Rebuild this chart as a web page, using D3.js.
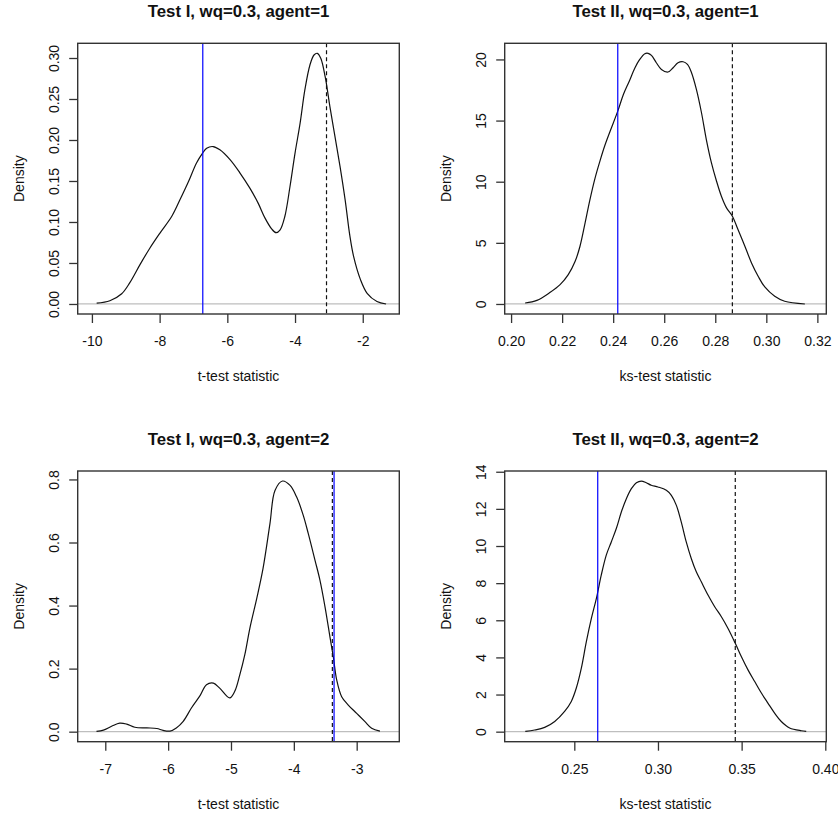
<!DOCTYPE html>
<html>
<head>
<meta charset="utf-8">
<script src="https://cdn.jsdelivr.net/npm/d3@7"></script>
<style>
body { margin: 0; background: #fff; }
text { font-family: "Liberation Sans", Arial, sans-serif; fill: #111; }
</style>
</head>
<body>
<div id="chart-area"></div>
<script>
// density curves
const t1a1X = [-9.86,-9.47,-9.12,-8.88,-8.58,-8.29,-7.99,-7.64,-7.40,-7.15,-6.91,-6.73,-6.61,-6.42,-6.22,-5.92,-5.63,-5.33,-5.09,-4.89,-4.69,-4.56,-4.44,-4.30,-4.15,-4.00,-3.85,-3.71,-3.56,-3.44,-3.34,-3.24,-3.11,-2.97,-2.82,-2.67,-2.52,-2.38,-2.27,-2.07,-1.87,-1.58,-1.31]
const t1a1Y = [0.001,0.004,0.0125,0.026,0.048,0.068,0.0865,0.107,0.127,0.149,0.172,0.184,0.190,0.192,0.188,0.176,0.160,0.141,0.123,0.105,0.0915,0.087,0.0905,0.107,0.143,0.184,0.2205,0.261,0.2915,0.3037,0.3057,0.2996,0.2772,0.2407,0.2041,0.1676,0.127,0.083,0.058,0.030,0.013,0.003,0.000]

const t2a1X = [0.2055,0.2101,0.2153,0.2192,0.2224,0.2251,0.2270,0.2290,0.2309,0.2329,0.2349,0.2368,0.2388,0.2418,0.2440,0.2463,0.2485,0.2504,0.2524,0.2537,0.2550,0.2569,0.2589,0.2615,0.2635,0.2654,0.2674,0.2691,0.2707,0.2726,0.2746,0.2765,0.2785,0.2805,0.2824,0.2844,0.2867,0.2889,0.2916,0.2942,0.2968,0.2994,0.3033,0.3072,0.3151]
const t2a1Y = [0.08,0.29,0.95,1.58,2.40,3.49,4.72,6.63,8.54,10.30,11.75,13.00,14.13,15.77,17.13,18.22,19.30,20.00,20.47,20.50,20.33,19.73,19.18,18.97,19.32,19.73,19.81,19.59,18.91,17.55,15.64,13.45,11.54,10.04,8.81,7.86,7.18,6.09,4.72,3.36,2.27,1.39,0.63,0.22,0.0]

const t1a2X = [-7.14,-7.03,-6.90,-6.77,-6.66,-6.53,-6.34,-6.18,-6.08,-5.97,-5.87,-5.76,-5.63,-5.49,-5.39,-5.28,-5.18,-5.02,-4.94,-4.86,-4.78,-4.70,-4.59,-4.49,-4.38,-4.30,-4.18,-4.06,-3.955,-3.85,-3.77,-3.663,-3.584,-3.504,-3.425,-3.372,-3.318,-3.239,-3.134,-3.00,-2.868,-2.762,-2.63]
const t1a2Y = [0.001,0.005,0.017,0.027,0.024,0.014,0.012,0.010,0.004,0.002,0.012,0.033,0.075,0.115,0.149,0.154,0.138,0.107,0.128,0.180,0.244,0.328,0.423,0.518,0.660,0.765,0.795,0.781,0.744,0.686,0.628,0.5435,0.480,0.396,0.300,0.237,0.164,0.111,0.0845,0.058,0.0317,0.0108,0.002]

const t2a2X = [0.2207,0.2263,0.2323,0.2383,0.2442,0.2482,0.2512,0.2542,0.2572,0.2602,0.2632,0.2661,0.2691,0.2721,0.2751,0.2781,0.2811,0.2841,0.2871,0.2900,0.2930,0.2960,0.3000,0.3050,0.3080,0.3110,0.3139,0.3169,0.3199,0.3229,0.3259,0.3299,0.3339,0.3379,0.3418,0.3462,0.3498,0.3538,0.3578,0.3618,0.3657,0.3697,0.3737,0.3787,0.3857,0.3886]
const t2a2Y = [0.02,0.09,0.23,0.55,1.09,1.63,2.35,3.42,4.85,6.10,7.18,8.43,9.51,10.22,10.94,11.83,12.55,13.09,13.41,13.50,13.41,13.27,13.18,13.00,12.73,12.19,11.30,10.22,9.33,8.61,8.07,7.36,6.73,6.19,5.57,4.76,4.05,3.33,2.70,2.08,1.54,1.00,0.55,0.20,0.05,0.02]

// observed statistic (blue) and critical value (dashed)
const observed = [-6.725, 0.2418, -3.36, 0.264]
const critical = [-3.07, 0.2867, -3.387, 0.3462]

const titles = ["Test I, wq=0.3, agent=1", "Test II, wq=0.3, agent=1", "Test I, wq=0.3, agent=2", "Test II, wq=0.3, agent=2"]
const xLabels = ["t-test statistic", "ks-test statistic", "t-test statistic", "ks-test statistic"]

// x limits of each plot region and tick values
const xLims = [[-10.42, -0.92], [0.1975, 0.3235], [-7.439, -2.322], [0.2084, 0.4006]]
const xTicks = [[-10, -8, -6, -4, -2], [0.20, 0.22, 0.24, 0.26, 0.28, 0.30, 0.32], [-7, -6, -5, -4, -3], [0.25, 0.30, 0.35, 0.40]]
const xDigits = [0, 2, 0, 2]
const yTicks = [[0, 0.05, 0.10, 0.15, 0.20, 0.25, 0.30], [0, 5, 10, 15, 20], [0, 0.2, 0.4, 0.6, 0.8], [0, 2, 4, 6, 8, 10, 12, 14]]
const yDigits = [2, 0, 1, 0]

const curvesX = [t1a1X, t2a1X, t1a2X, t2a2X]
const curvesY = [t1a1Y, t2a1Y, t1a2Y, t2a2Y]

const WIDTH = 838
const HEIGHT = 816
const BOX = { W: 321.6, H: 270.7 }
const COL_LEFT = [77.7, 504.7]
const ROW_TOP = [43.3, 471]

const svg = d3.select("#chart-area").append("svg")
	.attr("width", WIDTH)
	.attr("height", HEIGHT)

svg.append("rect")
	.attr("width", WIDTH)
	.attr("height", HEIGHT)
	.attr("fill", "#fff")

titles.forEach((title, i) => {
	const left = COL_LEFT[i % 2]
	const top = ROW_TOP[Math.floor(i / 2)]
	const data = curvesX[i].map((v, j) => ({ x: v, y: curvesY[i][j] }))
	const maxY = d3.max(data, d => d.y)

	const x = d3.scaleLinear().domain(xLims[i]).range([0, BOX.W])
	// R style: 4% padding on [0, max]
	const y = d3.scaleLinear().domain([-0.04 * maxY, 1.04 * maxY]).range([BOX.H, 0])

	const g = svg.append("g")
		.attr("transform", `translate(${left}, ${top})`)

	g.append("clipPath")
		.attr("id", `clip${i}`)
		.append("rect")
		.attr("width", BOX.W)
		.attr("height", BOX.H)

	const inner = g.append("g").attr("clip-path", `url(#clip${i})`)

	// zero line
	inner.append("line")
		.attr("x1", 0)
		.attr("x2", BOX.W)
		.attr("y1", y(0))
		.attr("y2", y(0))
		.attr("stroke", "#bebebe")
		.attr("stroke-width", 1.2)

	const line = d3.line()
		.x(d => x(d.x))
		.y(d => y(d.y))
		.curve(d3.curveCatmullRom.alpha(0.5))

	inner.append("path")
		.attr("d", line(data))
		.attr("fill", "none")
		.attr("stroke", "#111")
		.attr("stroke-width", 1.2)

	inner.append("line")
		.attr("x1", x(critical[i]))
		.attr("x2", x(critical[i]))
		.attr("y1", 0)
		.attr("y2", BOX.H)
		.attr("stroke", "#111")
		.attr("stroke-width", 1.2)
		.attr("stroke-dasharray", "4,3")

	inner.append("line")
		.attr("x1", x(observed[i]))
		.attr("x2", x(observed[i]))
		.attr("y1", 0)
		.attr("y2", BOX.H)
		.attr("stroke", "#0000ff")
		.attr("stroke-width", 1.2)

	// plot box
	g.append("rect")
		.attr("width", BOX.W)
		.attr("height", BOX.H)
		.attr("fill", "none")
		.attr("stroke", "#333")
		.attr("stroke-width", 1.4)

	// axes
	const xAxis = g.append("g")
		.attr("transform", `translate(0, ${BOX.H})`)
		.call(d3.axisBottom(x)
			.tickValues(xTicks[i])
			.tickSize(9)
			.tickFormat(d => d.toFixed(xDigits[i])))
	xAxis.select(".domain").remove()
	xAxis.selectAll("line").attr("stroke", "#333").attr("stroke-width", 1.3)
	xAxis.selectAll("text")
		.attr("y", 32)
		.attr("dy", null)
		.attr("font-size", 14)

	const yAxis = g.append("g")
		.call(d3.axisLeft(y)
			.tickValues(yTicks[i])
			.tickSize(8.5)
			.tickFormat(d => d.toFixed(yDigits[i])))
	yAxis.select(".domain").remove()
	yAxis.selectAll("line").attr("stroke", "#333").attr("stroke-width", 1.3)
	yAxis.selectAll("text")
		.attr("x", null)
		.attr("dy", null)
		.attr("text-anchor", "middle")
		.attr("transform", "translate(-18.4, 0) rotate(-90)")
		.attr("font-size", 14)

	// labels
	g.append("text")
		.attr("x", BOX.W / 2)
		.attr("y", -26.5)
		.attr("text-anchor", "middle")
		.attr("font-size", 16.8)
		.attr("font-weight", "bold")
		.text(title)

	g.append("text")
		.attr("x", BOX.W / 2)
		.attr("y", BOX.H + 67)
		.attr("text-anchor", "middle")
		.attr("font-size", 14)
		.text(xLabels[i])

	g.append("text")
		.attr("transform", `translate(-54, ${BOX.H / 2}) rotate(-90)`)
		.attr("text-anchor", "middle")
		.attr("font-size", 14)
		.text("Density")
})
</script>
</body>
</html>
